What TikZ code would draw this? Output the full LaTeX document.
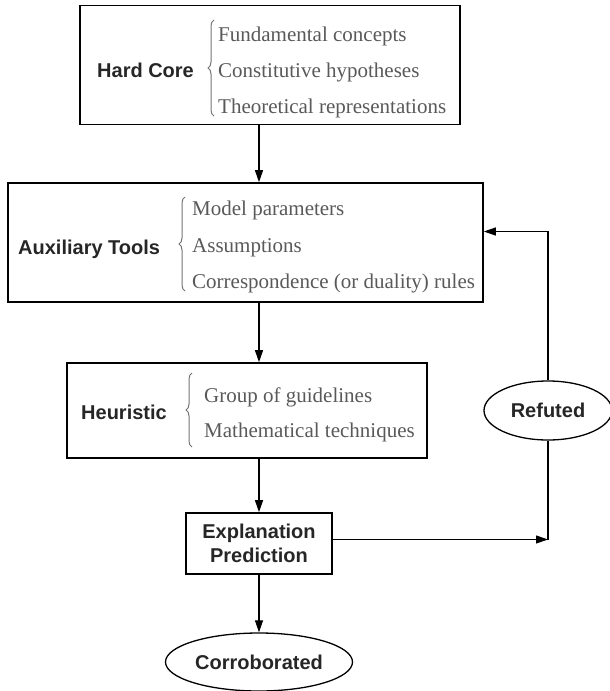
\documentclass[tikz,border=0pt]{standalone}
\usepackage{fontspec}
\setmainfont{Liberation Serif}
\setsansfont{Liberation Sans}
\usetikzlibrary{arrows.meta,shapes.geometric,decorations.pathreplacing}

\begin{document}
\begin{tikzpicture}[x=1pt,y=-1pt,
  box/.style={draw,line width=1.6pt,inner sep=0pt},
  oval/.style={draw,ellipse,line width=1.3pt,inner sep=0pt,font=\fontsize{20}{24}\sffamily\bfseries},
  head/.style={anchor=west,inner sep=0pt,text height=14pt,text depth=0pt,font=\fontsize{20}{24}\sffamily\bfseries,text=black!85},
  item/.style={anchor=west,inner sep=0pt,text height=15pt,text depth=0pt,font=\fontsize{21}{25}\selectfont,text=black!65},
  curly/.style={draw=black!55,line width=1pt,decorate,decoration={brace,amplitude=6pt}},
  arr/.style={-{Triangle[length=12pt,width=8pt]},line width=1.1pt}]
\useasboundingbox (0,0) rectangle (610,691);

\node[box,minimum width=380pt,minimum height=119pt] (hard) at (270,65) {};
\node[head] (hardlbl) at (97,70) {Hard Core};
\draw[curly] (214,116) -- (214,20);
\node[item] (hard1) at (218,34) {Fundamental concepts};
\node[item] (hard2) at (218,70) {Constitutive hypotheses};
\node[item] (hard3) at (218,106) {Theoretical representations};

\node[box,minimum width=475pt,minimum height=119pt] (aux) at (245.5,242.5) {};
\node[head] (auxlbl) at (18,247) {Auxiliary Tools};
\draw[curly] (185,291) -- (185,197);
\node[item] (aux1) at (192,208) {Model parameters};
\node[item] (aux2) at (192,245) {Assumptions};
\node[item] (aux3) at (192,281) {Correspondence (or duality) rules};

\node[box,minimum width=360pt,minimum height=95pt] (heur) at (247,410.5) {};
\node[head] (heurlbl) at (81,412) {Heuristic};
\draw[curly] (192,447) -- (192,373);
\node[item] (heur1) at (204,395) {Group of guidelines};
\node[item] (heur2) at (204,430) {Mathematical techniques};

\node[box,minimum width=146pt,minimum height=61pt,align=center,font=\fontsize{20}{24}\sffamily\bfseries,text=black!85] (expl) at (259,543.5) {Explanation\\Prediction};
\node[oval,minimum width=128pt,minimum height=59pt,text=black!85] (refuted) at (548,410.5) {Refuted};
\node[oval,minimum width=187pt,minimum height=58pt,text=black!85] (corrob) at (259,662) {Corroborated};

\draw[arr] (expl |- hard.south) -- (expl |- aux.north);
\draw[arr] (expl |- aux.south) -- (expl |- heur.north);
\draw[arr] (expl |- heur.south) -- (expl.north);
\draw[arr] (expl.south) -- (corrob.north);
\draw[arr] ([yshift=4pt]expl.east) -- ([yshift=4pt]expl.east -| refuted) coordinate (turn);
\draw[line width=1.1pt] (turn) -- (refuted.south);
\draw[arr] (refuted.north) |- ([yshift=11pt]aux.east);
\end{tikzpicture}
\end{document}
